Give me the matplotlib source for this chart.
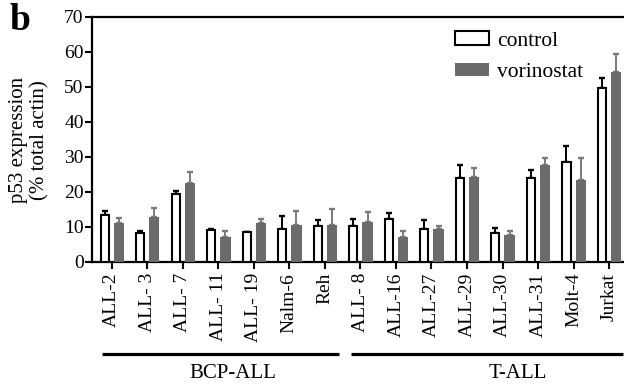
import matplotlib
matplotlib.use("Agg")
import matplotlib.pyplot as plt
import numpy as np
from matplotlib.transforms import blended_transform_factory

plt.rcParams['font.family'] = ['Liberation Serif', 'DejaVu Serif']

# ---- data ----
categories = ["ALL-2", "ALL- 3", "ALL- 7", "ALL- 11", "ALL- 19", "Nalm-6", "Reh",
              "ALL- 8", "ALL-16", "ALL-27", "ALL-29", "ALL-30", "ALL-31", "Molt-4", "Jurkat"]
control = [13.3, 8.3, 19.3, 9.2, 8.4, 9.4, 10.3, 10.2, 12.2, 9.3, 24.0, 8.1, 23.8, 28.4, 49.5]
control_err = [1.3, 0.6, 0.9, 0.2, 0.15, 3.7, 1.6, 2.1, 1.8, 2.6, 3.7, 1.5, 2.5, 4.7, 2.9]
vorinostat = [11.1, 12.7, 22.6, 7.1, 11.2, 10.5, 10.4, 11.3, 7.0, 9.4, 24.1, 7.5, 27.7, 23.3, 54.1]
vorinostat_err = [1.3, 2.6, 3.0, 1.7, 1.0, 4.0, 4.6, 2.8, 1.8, 0.7, 2.6, 1.3, 1.9, 6.2, 5.2]
groups = ["BCP-ALL", "T-ALL"]
group_first = [0, 7]
group_last = [6, 14]
yticks = [0, 10, 20, 30, 40, 50, 60, 70]

# ---- layout ----
W, H = 624, 386
fig = plt.figure(figsize=(W / 100, H / 100), dpi=100)
ax_left, ax_right, ax_top, ax_bot = 92, 624, 16.7, 261.7
ax = fig.add_axes([ax_left / W, 1 - ax_bot / H, (ax_right - ax_left) / W, (ax_bot - ax_top) / H])

x = np.arange(len(categories))
off = 0.2
gray = '#6b6b6b'
ax.bar(x - off, control, width=0.23, color='white', edgecolor='black', linewidth=1.5, zorder=3)
ax.bar(x + off, vorinostat, width=0.29, color=gray, edgecolor='none', zorder=3)
ax.errorbar(x - off, control, yerr=[np.zeros(len(x)), control_err], fmt='none',
            ecolor='black', elinewidth=1.4, capsize=2.4, capthick=1.7, zorder=2)
ax.errorbar(x + off, vorinostat, yerr=[np.zeros(len(x)), vorinostat_err], fmt='none',
            ecolor='#7a7a7a', elinewidth=1.4, capsize=2.4, capthick=1.7, zorder=2)

ax.set_xlim(-0.555, 14.42)
ax.set_ylim(0, 70)
ax.set_yticks(yticks)
ax.set_xticks(x)
ax.set_xticklabels(categories, rotation=90, fontsize=14)
ax.tick_params(axis='y', labelsize=14, length=5, width=1.5, pad=1)
ax.tick_params(axis='x', length=5, width=1.5, pad=3)
for s in ['left', 'bottom', 'top']:
    ax.spines[s].set_linewidth(1.6)
ax.spines['right'].set_visible(False)

fig.text(29 / W, 1 - 140 / H, "p53 expression\n(% total actin)", fontsize=15,
         linespacing=1.15, rotation=90, ha='center', va='center')

leg = ax.legend(["control", "vorinostat"], loc='upper left', bbox_to_anchor=(0.682, 0.94),
                frameon=False, fontsize=15.5, handlelength=1.6, handleheight=0.6,
                handletextpad=0.35, labelspacing=0.55, borderpad=0, borderaxespad=0)

# group brackets
tr = blended_transform_factory(ax.transData, ax.transAxes)
line_y = (ax_bot - 354.3) / (ax_bot - ax_top)
text_y = (ax_bot - 373) / (ax_bot - ax_top)
label_shift = [0.35, 0.86]
for g, a, b, sh in zip(groups, group_first, group_last, label_shift):
    x0, x1 = a - 0.27, b + 0.39
    ax.plot([x0, x1], [line_y, line_y], color='black', lw=2.3, transform=tr, clip_on=False,
            solid_capstyle='butt')
    ax.text((x0 + x1) / 2 + sh, text_y, g, transform=tr, ha='center', va='center', fontsize=15)

fig.text(10 / W, 1 - 21 / H, "b", fontsize=27, fontweight='bold', ha='left', va='center')

fig.savefig("out.png", dpi=100)
